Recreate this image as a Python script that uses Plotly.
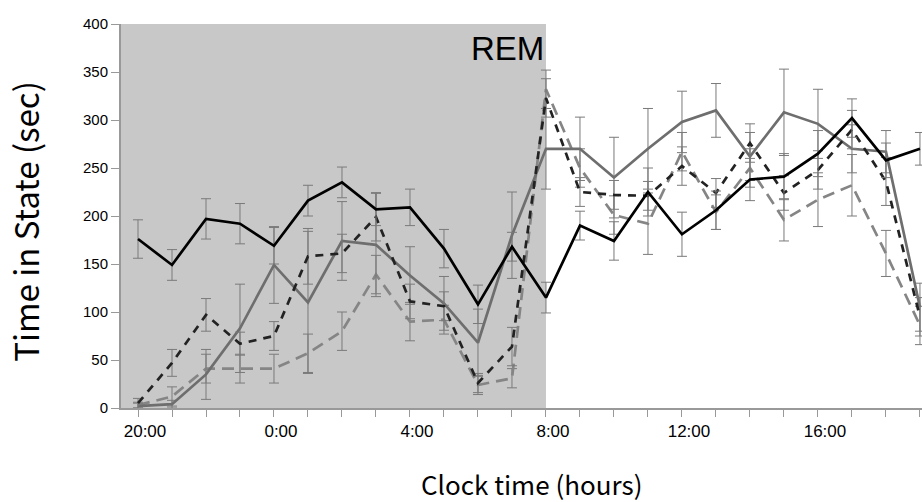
import plotly.graph_objects as go

hours = ["20:00", "21:00", "22:00", "23:00", "0:00", "1:00", "2:00", "3:00",
         "4:00", "5:00", "6:00", "7:00", "8:00", "9:00", "10:00", "11:00",
         "12:00", "13:00", "14:00", "15:00", "16:00", "17:00", "18:00", "19:00"]
labeled_hours = ["20:00", "0:00", "4:00", "8:00", "12:00", "16:00"]
y_ticks = [0, 50, 100, 150, 200, 250, 300, 350, 400]

black_solid = [176, 149, 197, 192, 169, 216, 235, 207, 209, 166, 108, 168,
               115, 190, 174, 225, 181, 206, 238, 241, 265, 302, 258, 270]
black_solid_err = [20, 16, 21, 21, 19, 16, 16, 17, 19, 20, 20, 15,
                   16, 15, 20, 25, 23, 20, 22, 24, 24, 20, 18, 17]

gray_solid = [2, 4, 35, 83, 149, 110, 174, 170, 138, 109, 68, 180,
              270, 270, 240, 270, 298, 310, 262, 308, 296, 270, 267, 105]
gray_solid_err = [3, 4, 26, 46, 40, 74, 41, 54, 30, 28, 35, 45,
                  42, 33, 42, 42, 32, 28, 25, 45, 36, 25, 22, 25]

black_dashed = [5, 47, 97, 67, 75, 158, 161, 199, 111, 106, 26, 64,
                323, 225, 222, 221, 252, 224, 276, 224, 248, 290, 236, 95]
black_dashed_err = [5, 14, 17, 12, 15, 29, 20, 25, 18, 15, 10, 20,
                    20, 15, 15, 15, 20, 15, 20, 18, 20, 20, 25, 20]

gray_dashed = [3, 12, 41, 41, 41, 57, 80, 139, 90, 92, 24, 31,
               332, 250, 201, 192, 267, 204, 250, 196, 217, 232, 161, 86]
gray_dashed_err = [3, 10, 15, 15, 15, 20, 20, 20, 20, 15, 10, 10,
                   20, 20, 20, 32, 20, 18, 20, 22, 28, 32, 24, 20]

ERR_COLOR = "#7a7a7a"

def err(vals):
    return dict(type="data", array=vals, visible=True, color=ERR_COLOR,
                thickness=1, width=5)

fig = go.Figure()
fig.add_trace(go.Scatter(x=hours, y=gray_dashed, mode="lines",
                         line=dict(color="#858585", width=2.7, dash="12px,7px"),
                         error_y=err(gray_dashed_err)))
fig.add_trace(go.Scatter(x=hours, y=gray_solid, mode="lines",
                         line=dict(color="#6e6e6e", width=2.7),
                         error_y=err(gray_solid_err)))
fig.add_trace(go.Scatter(x=hours, y=black_dashed, mode="lines",
                         line=dict(color="#222222", width=2.7, dash="8px,7px"),
                         error_y=err(black_dashed_err)))
fig.add_trace(go.Scatter(x=hours, y=black_solid, mode="lines",
                         line=dict(color="#000000", width=2.7),
                         error_y=err(black_solid_err)))

rem_end = hours.index("8:00")
fig.add_shape(type="rect", xref="x", yref="y", x0=-0.5, x1=rem_end,
              y0=0, y1=400, fillcolor="#c8c8c8", line=dict(width=0),
              layer="below")

fig.add_annotation(x=rem_end, y=375, xref="x", yref="y", text="REM",
                   showarrow=False, xanchor="right", yanchor="middle",
                   font=dict(family="Liberation Sans", size=33, color="#000"))

fig.add_annotation(x=0.513, y=-0.197, xref="paper", yref="paper",
                   text="Clock time (hours)", showarrow=False,
                   xanchor="center", yanchor="middle",
                   font=dict(family="Noto Sans CJK JP", size=26, color="#000"))
fig.add_annotation(x=-0.120, y=0.487, xref="paper", yref="paper",
                   text="Time in State (sec)", showarrow=False, textangle=-90,
                   xanchor="center", yanchor="middle",
                   font=dict(family="Noto Sans CJK JP", size=33, color="#000"))

fig.update_layout(
    width=922, height=502,
    margin=dict(l=121, r=0, t=24, b=94),
    paper_bgcolor="white", plot_bgcolor="white",
    showlegend=False,
    xaxis=dict(
        type="category", range=[-0.5, 23.06],
        tickvals=hours,
        ticktext=[h if h in labeled_hours else "" for h in hours],
        ticks="outside", ticklen=7, tickcolor="#999999", tickwidth=1,
        ticklabelshift=7,
        showline=True, linecolor="#999999", linewidth=1.5,
        showgrid=False, zeroline=False,
        tickfont=dict(family="Liberation Sans", size=17, color="#000"),
    ),
    yaxis=dict(
        range=[0, 400], tickvals=y_ticks,
        ticks="outside", ticklen=8, tickcolor="#999999", tickwidth=1,
        showline=True, linecolor="#999999", linewidth=2,
        showgrid=False, zeroline=False,
        tickfont=dict(family="Liberation Sans", size=15, color="#000"),
    ),
)

fig.write_html("out.html")
